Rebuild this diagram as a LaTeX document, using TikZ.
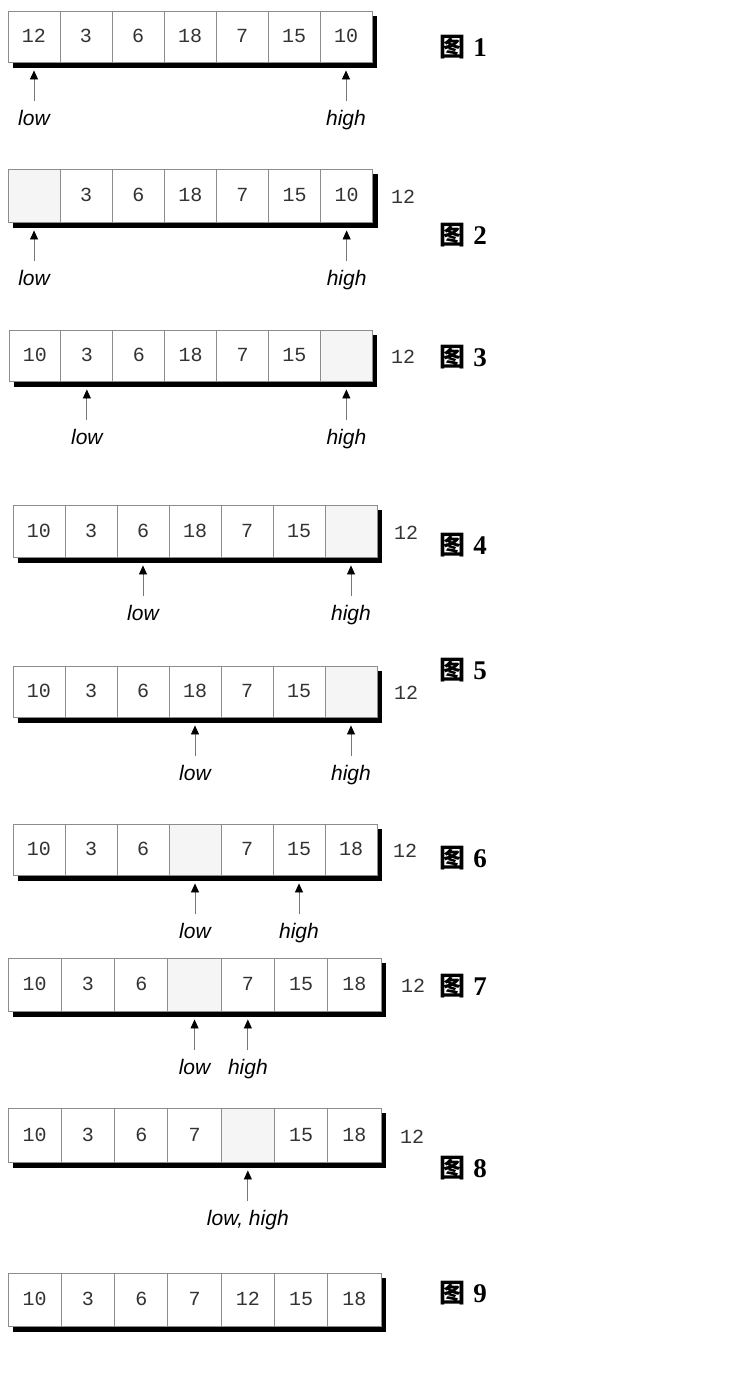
\documentclass[tikz,border=0pt]{standalone}
\usepackage{fontspec}
\setmainfont{Liberation Serif}
\newfontfamily\cellfont{Liberation Mono}
\newfontfamily\lblfont{Liberation Sans}
\newfontfamily\cjkfont{Noto Sans CJK SC}
\usetikzlibrary{arrows.meta,calc}
\definecolor{cellline}{HTML}{8C8C8C}
\definecolor{emptyfill}{HTML}{F5F5F5}
\definecolor{ptrline}{HTML}{777777}
\definecolor{digitcol}{HTML}{333333}
\tikzset{
  cellbox/.style={draw=cellline, line width=0.9pt, fill=white, inner sep=0pt,
    text height=12.5pt, text depth=0pt,
    text=digitcol, font=\cellfont\fontsize{20}{20}\selectfont},
  emptybox/.style={cellbox, fill=emptyfill},
  shadowbar/.style={fill=black, draw=none},
  extraval/.style={inner sep=0pt, text height=12.5pt, text depth=0pt,
    text=digitcol, font=\cellfont\fontsize{20}{20}\selectfont},
  ptrlabel/.style={inner sep=0pt, anchor=base, text height=15pt,
    font=\lblfont\itshape\fontsize{21}{21}\selectfont},
  ptr/.style={draw=ptrline, line width=0.8pt,
    -{Triangle[length=9pt,width=8pt,fill=black,color=black]},
    shorten <=9pt, shorten >=8pt},
  figlabel/.style={inner sep=0pt, anchor=center}
}
\newcommand{\figlbl}[1]{{\cjkfont\bfseries\fontsize{26}{26}\selectfont 图}\hspace{8pt}{\bfseries\fontsize{27}{27}\selectfont #1}}
\def\emptymark{e}
% \arrrow{name}{left}{top}{cellwidth}{height}{values}
\newcommand{\arrrow}[6]{%
  \fill[shadowbar] (#2+5,#3+#5) rectangle (#2+7*#4+5,#3+#5+6);
  \fill[shadowbar] (#2+7*#4,#3+5) rectangle (#2+7*#4+5,#3+#5+6);
  \foreach \v [count=\i] in {#6}{
    \edef\tmpv{\v}%
    \ifx\tmpv\emptymark
      \node[emptybox, minimum width=#4*1pt, minimum height=#5*1pt]
        (#1c\i) at (#2+\i*#4-0.5*#4,#3+0.5*#5) {};
    \else
      \node[cellbox, minimum width=#4*1pt, minimum height=#5*1pt]
        (#1c\i) at (#2+\i*#4-0.5*#4,#3+0.5*#5) {\v};
    \fi
  }
}
% \pointer{row}{cell}{labelname}{text}
\newcommand{\pointer}[4]{%
  \node[ptrlabel] (#3) at ($(#1c#2.south)+(0,63)$) {#4};
  \draw[ptr] (#3.north) -- (#1c#2.south);
}
\begin{document}
\begin{tikzpicture}[x=1pt,y=-1pt]
\useasboundingbox (0,0) rectangle (745,1389);

% Row 1
\arrrow{a}{8}{11}{52}{51}{12,3,6,18,7,15,10}
\pointer{a}{1}{alow}{low}
\pointer{a}{7}{ahigh}{high}
\node[figlabel] (afig) at (463,47) {\figlbl{1}};

% Row 2
\arrrow{b}{8}{169}{52.1}{53}{e,3,6,18,7,15,10}
\pointer{b}{1}{blow}{low}
\pointer{b}{7}{bhigh}{high}
\node[extraval] (bext) at (403,197) {12};
\node[figlabel] (bfig) at (463,235) {\figlbl{2}};

% Row 3
\arrrow{c}{9}{330}{51.9}{51}{10,3,6,18,7,15,e}
\pointer{c}{2}{clow}{low}
\pointer{c}{7}{chigh}{high}
\node[extraval] (cext) at (403,357) {12};
\node[figlabel] (cfig) at (463,357) {\figlbl{3}};

% Row 4
\arrrow{d}{13}{505}{52}{52}{10,3,6,18,7,15,e}
\pointer{d}{3}{dlow}{low}
\pointer{d}{7}{dhigh}{high}
\node[extraval] (dext) at (406,533) {12};
\node[figlabel] (dfig) at (463,545) {\figlbl{4}};

% Row 5
\arrrow{e}{13}{666}{52}{51}{10,3,6,18,7,15,e}
\pointer{e}{4}{elow}{low}
\pointer{e}{7}{ehigh}{high}
\node[extraval] (eext) at (406,693) {12};
\node[figlabel] (efig) at (463,670) {\figlbl{5}};

% Row 6
\arrrow{f}{13}{824}{52}{51}{10,3,6,e,7,15,18}
\pointer{f}{4}{flow}{low}
\pointer{f}{6}{fhigh}{high}
\node[extraval] (fext) at (405,851) {12};
\node[figlabel] (ffig) at (463,858) {\figlbl{6}};

% Row 7
\arrrow{g}{8}{958}{53.3}{53}{10,3,6,e,7,15,18}
\pointer{g}{4}{glow}{low}
\pointer{g}{5}{ghigh}{high}
\node[extraval] (gext) at (413,986) {12};
\node[figlabel] (gfig) at (463,986) {\figlbl{7}};

% Row 8
\arrrow{h}{8}{1108}{53.3}{54}{10,3,6,7,e,15,18}
\pointer{h}{5}{hboth}{low, high}
\node[extraval] (hext) at (412,1137) {12};
\node[figlabel] (hfig) at (463,1168) {\figlbl{8}};

% Row 9
\arrrow{i}{8}{1273}{53.3}{53}{10,3,6,7,12,15,18}
\node[figlabel] (ifig) at (463,1293) {\figlbl{9}};
\end{tikzpicture}
\end{document}
